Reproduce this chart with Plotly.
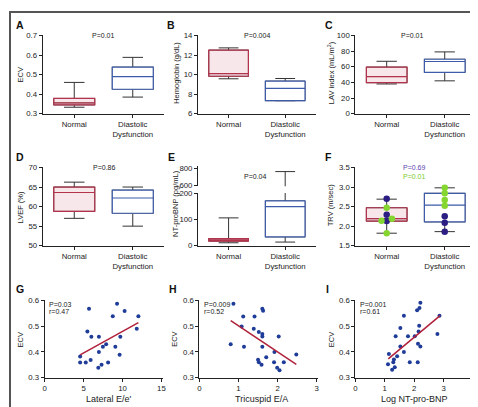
import plotly.graph_objects as go

# ---------------- data ----------------
groups = ["Normal", "Diastolic<br>Dysfunction"]
# box stats: [lowerfence, q1, median, q3, upperfence]
ecv_normal = [0.333, 0.345, 0.355, 0.378, 0.46]
ecv_dd = [0.385, 0.425, 0.49, 0.538, 0.588]
hgb_normal = [9.57, 9.83, 10.1, 12.5, 12.73]
hgb_dd = [7.33, 7.33, 8.6, 9.33, 9.6]
lav_normal = [38, 39.6, 47.5, 59.6, 67]
lav_dd = [42, 52.9, 66.7, 69.6, 79]
lvef_normal = [57, 58.8, 63.6, 65, 66.25]
lvef_dd = [55, 58.3, 62.2, 64.2, 65]
bnp_normal = [11.3, 17.7, 22, 27.5, 107]
bnp_dd = [14, 34, 150, 172, 763]
trv_normal = [1.82, 2.13, 2.19, 2.47, 2.69]
trv_dd = [1.86, 2.11, 2.54, 2.84, 2.98]

trv_normal_navy = [2.70, 2.29, 2.13]
trv_normal_green = [2.47, 2.14, 2.19, 1.82]
trv_dd_green = [2.98, 2.84, 2.67, 2.52]
trv_dd_navy = [2.25, 2.09, 1.86]

p_values_box = ["P=0.01", "P=0.004", "P=0.01", "P=0.86", "P=0.04"]
p_values_trv = ["P=0.69", "P=0.01"]

g_x = [5.7, 9.3, 10.27, 8.75, 12.04, 5.49, 6.0, 6.97, 9.72, 11.83, 4.56, 4.56,
       5.28, 5.91, 6.97, 7.48, 7.9, 9.08, 9.63, 6.89, 7.31, 8.15]
g_y = [0.568, 0.587, 0.559, 0.539, 0.539, 0.480, 0.459, 0.459, 0.459, 0.490, 0.382, 0.359,
       0.359, 0.369, 0.400, 0.420, 0.430, 0.420, 0.389, 0.339, 0.350, 0.359]
g_fit_x = [4.56, 12.04]
g_fit_y = [0.389, 0.514]

h_x = [0.87, 1.12, 1.41, 1.61, 1.63, 1.08, 1.39, 1.52, 1.61, 1.61, 2.03, 0.80, 1.14,
       1.61, 1.71, 1.92, 1.50, 1.52, 1.59, 1.91, 1.99, 2.05, 2.16, 2.48]
h_y = [0.587, 0.538, 0.538, 0.568, 0.560, 0.499, 0.490, 0.478, 0.470, 0.460, 0.460, 0.430, 0.420,
       0.420, 0.380, 0.400, 0.370, 0.360, 0.350, 0.360, 0.339, 0.329, 0.360, 0.390]
h_fit_x = [0.80, 2.48]
h_fit_y = [0.522, 0.352]

i_x = [2.21, 2.18, 2.10, 1.65, 2.86, 1.53, 2.17, 2.15, 2.02, 1.79, 1.37, 2.79, 2.13,
       2.21, 1.53, 1.65, 1.42, 1.14, 1.31, 1.29, 1.34, 1.11, 1.25, 1.85, 2.12]
i_y = [0.591, 0.571, 0.562, 0.541, 0.541, 0.493, 0.502, 0.480, 0.461, 0.461, 0.461, 0.470, 0.432,
       0.421, 0.421, 0.400, 0.383, 0.392, 0.371, 0.360, 0.341, 0.352, 0.331, 0.360, 0.360]
i_fit_x = [1.12, 2.88]
i_fit_y = [0.373, 0.541]

scatter_stats = [("P=0.03", "r=0.47"), ("P=0.009", "r=0.52"), ("P=0.001", "r=0.61")]

# ---------------- style ----------------
W, H = 478, 407
FONT = "Liberation Sans, Arial, sans-serif"
TXT = "#222"
RED = "#b3334d"
RED_FILL = "rgba(235,185,195,0.35)"
BLUE = "#3d5ba8"
NAVY = "#2b1d82"
GREEN = "#86d631"
DOT = "#1f3c99"
FIT = "#b0203a"
WHISK = "#333"


def xd(a, b):
    return [a / W, b / W]


def yd(top, bottom):
    return [1 - bottom / H, 1 - top / H]


fig = go.Figure()


def add_box(stats, pos, xa, ya, color, fill):
    common = dict(x=[pos], width=0.7, whiskerwidth=0.5, boxpoints=False,
                  xaxis=xa, yaxis=ya, showlegend=False, hoverinfo="skip")
    fig.add_trace(go.Box(lowerfence=[stats[0]], q1=[stats[1]], median=[stats[2]],
                         q3=[stats[3]], upperfence=[stats[4]],
                         line=dict(color=WHISK, width=1), fillcolor="rgba(0,0,0,0)", **common))
    fig.add_trace(go.Box(lowerfence=[stats[1]], q1=[stats[1]], median=[stats[2]],
                         q3=[stats[3]], upperfence=[stats[3]],
                         line=dict(color=color, width=1.2), fillcolor=fill, **common))


box_sets = [(ecv_normal, ecv_dd), (hgb_normal, hgb_dd), (lav_normal, lav_dd),
            (lvef_normal, lvef_dd), (bnp_normal, bnp_dd), (trv_normal, trv_dd)]
for k, (sn, sd) in enumerate(box_sets):
    n = k + 1
    xa = "x" if n == 1 else "x%d" % n
    ya = "y" if n == 1 else "y%d" % n
    add_box(sn, 0, xa, ya, RED, RED_FILL)
    add_box(sd, 1, xa, ya, BLUE, "white")
    if n == 5:
        # upper segment of the broken NT-proBNP axis
        add_box(sn, 0, "x10", "y10", RED, RED_FILL)
        add_box(sd, 1, "x10", "y10", BLUE, "white")

# TRV points
jit_navy_n = [0, 0, 0]
jit_green_n = [0, -0.09, 0.09, 0]
mk = dict(size=6.5)
fig.add_trace(go.Scatter(x=[0 + d for d in jit_navy_n], y=trv_normal_navy, mode="markers",
                         marker=dict(color=NAVY, **mk), xaxis="x6", yaxis="y6", showlegend=False))
fig.add_trace(go.Scatter(x=[0 + d for d in jit_green_n], y=trv_normal_green, mode="markers",
                         marker=dict(color=GREEN, **mk), xaxis="x6", yaxis="y6", showlegend=False))
fig.add_trace(go.Scatter(x=[1] * len(trv_dd_green), y=trv_dd_green, mode="markers",
                         marker=dict(color=GREEN, **mk), xaxis="x6", yaxis="y6", showlegend=False))
fig.add_trace(go.Scatter(x=[1] * len(trv_dd_navy), y=trv_dd_navy, mode="markers",
                         marker=dict(color=NAVY, **mk), xaxis="x6", yaxis="y6", showlegend=False))

# scatter panels
for n, (xs, ys, fx, fy) in zip([7, 8, 9], [(g_x, g_y, g_fit_x, g_fit_y),
                                          (h_x, h_y, h_fit_x, h_fit_y),
                                          (i_x, i_y, i_fit_x, i_fit_y)]):
    fig.add_trace(go.Scatter(x=xs, y=ys, mode="markers", marker=dict(color=DOT, size=4),
                             xaxis="x%d" % n, yaxis="y%d" % n, showlegend=False))
    fig.add_trace(go.Scatter(x=fx, y=fy, mode="lines", line=dict(color=FIT, width=1.5),
                             xaxis="x%d" % n, yaxis="y%d" % n, showlegend=False))

# ---------------- axes ----------------
tickfont = dict(family=FONT, size=7.8, color=TXT)
axbase = dict(showline=True, linecolor="#222", linewidth=1, showgrid=False, zeroline=False,
              ticks="outside", ticklen=3, tickcolor="#222", tickwidth=1, tickfont=tickfont)

cols = [(33, 156), (190, 309), (349, 471)]
rows = [(24, 104), (159, 239)]
y_specs = [
    dict(range=[0.3, 0.7], dtick=0.1, tickformat=".1f"),
    dict(range=[6, 14], dtick=2),
    dict(range=[0, 100], dtick=20),
    dict(range=[50, 70], dtick=5),
    dict(range=[0, 203], tickvals=[0, 100, 200]),
    dict(range=[1.5, 3.5], dtick=0.5, tickformat=".1f"),
]
BOX_XRANGE = [-0.54, 1.54]
layout = {}
for k in range(6):
    n = k + 1
    c = cols[k % 3]
    r = rows[k // 3]
    sfx = "" if n == 1 else str(n)
    ydom = yd(*r) if n != 5 else yd(185, 239)
    layout["xaxis" + sfx] = dict(axbase, domain=xd(*c), range=BOX_XRANGE, tickvals=[0, 1],
                                 ticktext=groups, anchor="y" + sfx)
    layout["yaxis" + sfx] = dict(axbase, domain=ydom, anchor="x" + sfx, **y_specs[k])
layout["xaxis10"] = dict(domain=xd(*cols[1]), range=BOX_XRANGE, visible=False, anchor="y10")
layout["yaxis10"] = dict(axbase, domain=yd(157.7, 178.3), anchor="x10", range=[590, 826],
                         tickvals=[600, 800])

sc_cols = [((35, 155), [0, 15.25], 5), ((191.5, 311), [0, 3.03], 1), ((349, 470), [0, 4.07], 1)]
for j, (c, rng, dt) in enumerate(sc_cols):
    n = 7 + j
    layout["xaxis%d" % n] = dict(axbase, domain=xd(*c), range=rng, dtick=dt, anchor="y%d" % n)
    layout["yaxis%d" % n] = dict(axbase, domain=yd(295, 374), range=[0.3, 0.6], dtick=0.1,
                                 tickformat=".1f", anchor="x%d" % n)

# ---------------- annotations ----------------
ann = []


def txt(x, y, s, size=7, color=TXT, bold=False, xanchor="center", angle=0):
    ann.append(dict(x=x / W, y=1 - y / H, xref="paper", yref="paper", text=("<b>%s</b>" % s) if bold else s,
                    showarrow=False, xanchor=xanchor, yanchor="middle", textangle=angle,
                    font=dict(family=FONT, size=size, color=color)))


for s, (x, y) in zip("ABCDEFGHI", [(10, 13), (163, 13), (322, 13), (10, 148), (163, 148),
                                   (322, 148), (10, 283), (165, 283), (321, 283)]):
    txt(x, y, s, size=10.5, color="#111", bold=True)

for s, (x, y) in zip(p_values_box, [(94, 24), (250, 24), (406, 24), (95, 159), (248, 168)]):
    txt(x, y, s)
txt(408, 159, p_values_trv[0], color="#5b3fb0")
txt(408, 168, p_values_trv[1], color="#7acb2a")

for (p, r), x in zip(scatter_stats, [37, 194, 352]):
    txt(x, 299, p, xanchor="left")
    txt(x, 306.5, r, xanchor="left")

for s, x in zip(["Lateral E/e'", "Tricuspid E/A", "Log NT-pro-BNP"], [100, 254, 409]):
    txt(x, 396, s, size=9)

ytitles = [("ECV", 11, 64), ("Hemoglobin (g/dL)", 168, 62), ("LAV index (mL/m<sup>2</sup>)", 324, 62),
           ("LVEF (%)", 11, 200), ("NT-proBNP (pg/mL)", 167, 196), ("TRV (m/sec)", 324, 198),
           ("ECV", 11, 335), ("ECV", 166, 335), ("ECV", 325, 335)]
for s, x, y in ytitles:
    txt(x, y, s, size=7.5, angle=-90)

fig.update_layout(
    width=W, height=H, autosize=False,
    margin=dict(l=0, r=0, t=0, b=0),
    paper_bgcolor="white", plot_bgcolor="white",
    boxmode="overlay", annotations=ann,
    shapes=[dict(type="rect", xref="paper", yref="paper", x0=0, y0=0, x1=1, y1=1,
                 line=dict(color="#555", width=2))],
    **layout,
)

fig.write_html("out.html")
